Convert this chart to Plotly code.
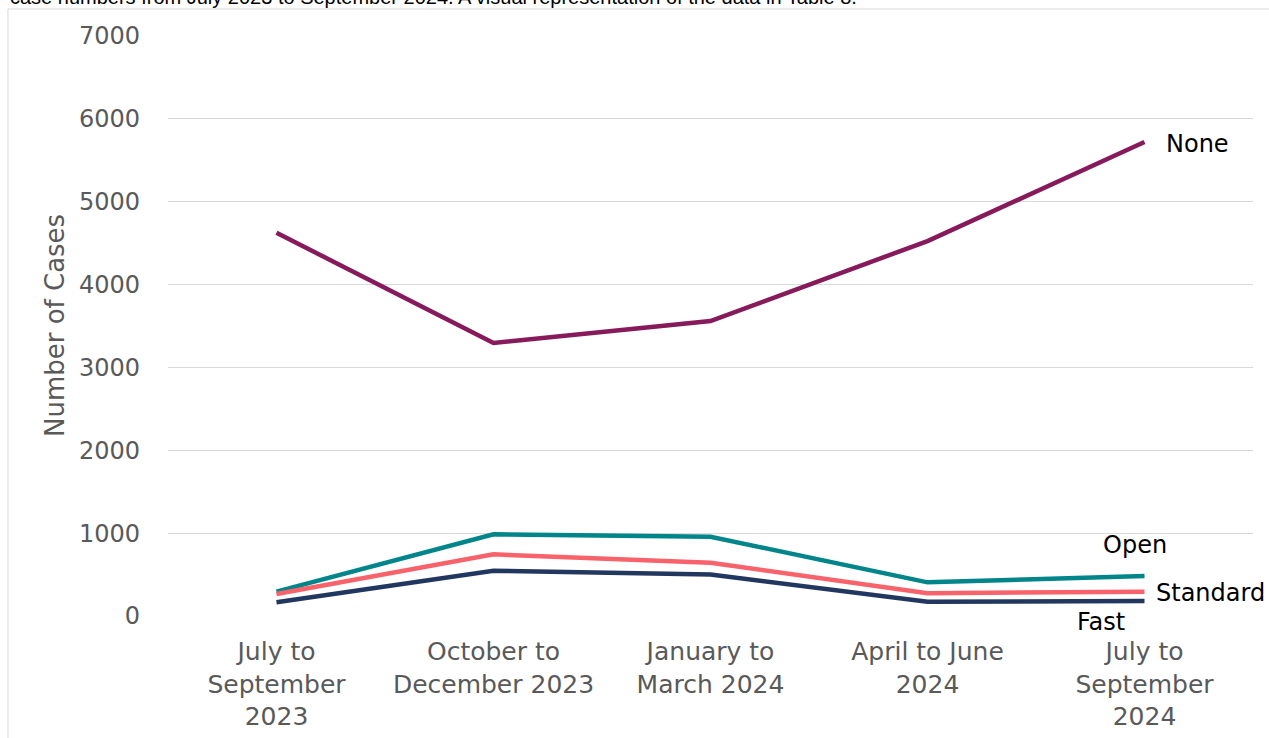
import plotly.graph_objects as go

# Quarterly periods shown on the x axis
quarters = [
    "July to<br>September<br>2023",
    "October to<br>December 2023",
    "January to<br>March 2024",
    "April to June<br>2024",
    "July to<br>September<br>2024",
]

# Number of cases per outcome type
none_cases = [4625, 3295, 3560, 4525, 5720]
open_cases = [295, 986, 957, 406, 483]
standard_cases = [265, 744, 643, 274, 294]
fast_cases = [165, 547, 500, 173, 181]

y_ticks = [0, 1000, 2000, 3000, 4000, 5000, 6000, 7000]

series = [
    ("None", none_cases, "#861A5B"),
    ("Open", open_cases, "#00858A"),
    ("Standard", standard_cases, "#F8636B"),
    ("Fast", fast_cases, "#22375F"),
]

fig = go.Figure()
for name, values, colour in series:
    fig.add_trace(go.Scatter(
        x=quarters, y=values, name=name, mode="lines",
        line=dict(color=colour, width=4.5),
        showlegend=False,
    ))

label_font = dict(family="DejaVu Sans, Verdana, sans-serif", size=24, color="#000000")

# Series labels placed beside the line ends
fig.add_annotation(x=4.09, y=5696, xref="x", yref="y", text="None",
                   showarrow=False, xanchor="left", yanchor="middle", font=label_font)
fig.add_annotation(x=3.956, y=857, xref="x", yref="y", text="Open",
                   showarrow=False, xanchor="center", yanchor="middle", font=label_font)
fig.add_annotation(x=4.045, y=278, xref="x", yref="y", text="Standard",
                   showarrow=False, xanchor="left", yanchor="middle", font=label_font)
fig.add_annotation(x=3.80, y=-0.0103, xref="x", yref="paper", text="Fast",
                   showarrow=False, xanchor="center", yanchor="middle", font=label_font)

# Y axis title
fig.add_annotation(x=-0.1041, y=0.5, xref="paper", yref="paper", text="Number of Cases",
                   textangle=-90, showarrow=False, xanchor="center", yanchor="middle",
                   font=dict(family="DejaVu Sans, Verdana, sans-serif", size=26, color="#595959"))

# Caption line running along the top of the page
fig.add_annotation(x=-0.1475, y=1.068, xref="paper", yref="paper",
                   text="case numbers from July 2023 to September 2024. A visual representation of the data in Table 8.",
                   showarrow=False, xanchor="left", yanchor="middle",
                   font=dict(family="Liberation Sans, Arial, sans-serif", size=20, color="#000000"))

# Chart frame
fig.add_shape(type="rect", xref="paper", yref="paper",
              x0=-0.1475, x1=1.05, y0=-0.3, y1=1.0466,
              line=dict(color="#D9D9D9", width=1), fillcolor="rgba(0,0,0,0)", layer="below")

fig.update_layout(
    width=1269, height=738,
    margin=dict(l=168, r=16, t=36, b=122, autoexpand=False),
    paper_bgcolor="#FFFFFF", plot_bgcolor="#FFFFFF",
    font=dict(family="DejaVu Sans, Verdana, sans-serif", color="#595959"),
    xaxis=dict(
        type="category", range=[-0.5, 4.5], automargin=False,
        showgrid=False, showline=False, zeroline=False, ticks="",
        tickfont=dict(size=25, color="#595959"),
        ticklabelstandoff=18,
    ),
    yaxis=dict(
        range=[0, 7000], tickvals=y_ticks, ticktext=[str(v) for v in y_ticks],
        automargin=False,
        showgrid=True, gridcolor="#D9D9D9", gridwidth=1,
        showline=False, zeroline=False, ticks="",
        tickfont=dict(size=24, color="#595959"),
        ticklabelstandoff=27,
    ),
)

fig.write_html("out.html")
